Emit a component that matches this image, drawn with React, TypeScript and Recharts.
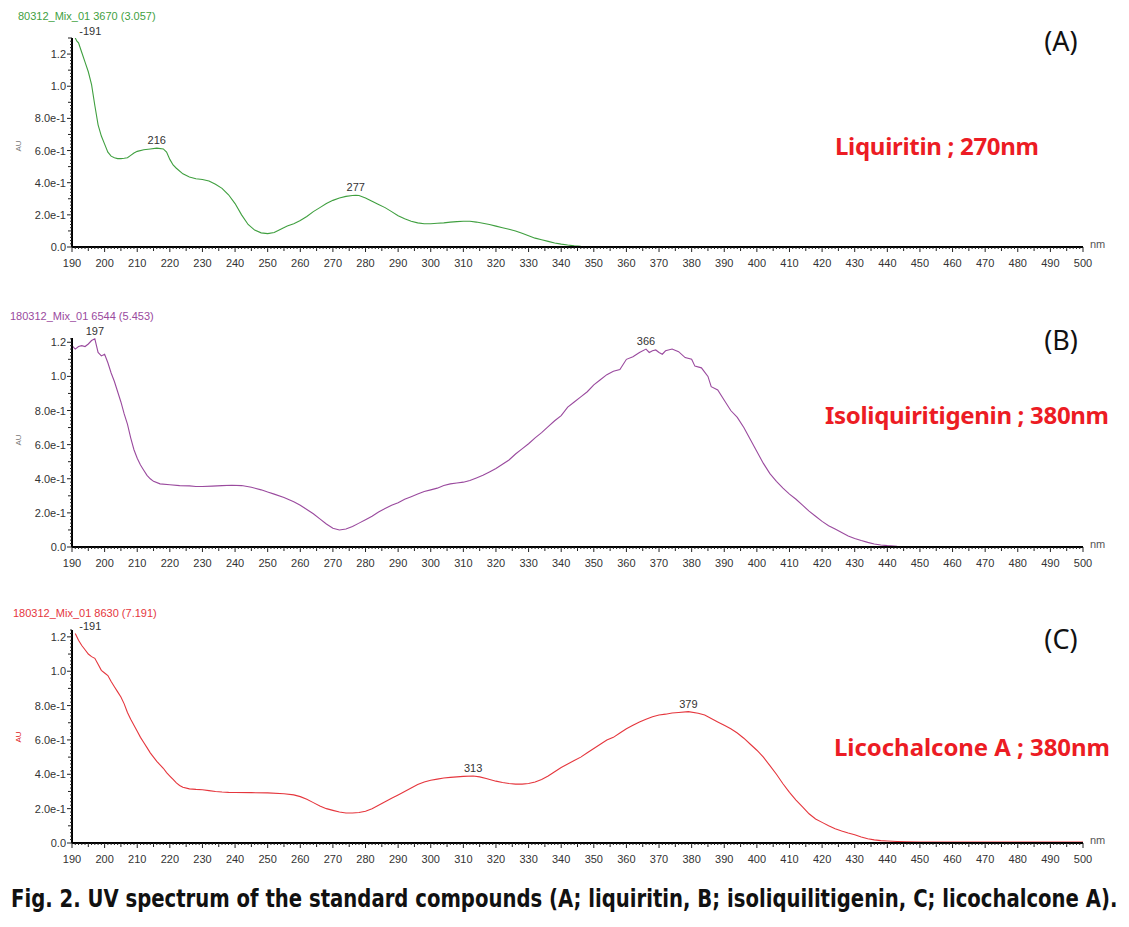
import React, { useLayoutEffect, useRef, useState } from "react";
import { LineChart, Line, XAxis, YAxis, LabelList } from "recharts";

const W = 1129;
const H = 927;

// (A) liquiritin
const nmA = [
  191, 191.5, 192, 193, 194, 195, 196, 197, 198, 199,
  200, 201, 202, 203, 204, 205, 206, 207, 208, 209,
  210, 212, 214, 216, 218, 219, 220, 221, 222, 224,
  226, 228, 230, 232, 234, 236, 238, 240, 242, 244,
  246, 248, 250, 252, 254, 256, 258, 260, 262, 264,
  266, 268, 270, 272, 274, 276, 277, 278, 280, 282, 284,
  286, 288, 290, 292, 294, 296, 298, 300, 302, 304,
  306, 308, 310, 312, 314, 316, 318, 320, 322, 324,
  326, 328, 330, 332, 334, 336, 338, 340, 342, 344,
  346, 350, 360, 400, 450, 500,
];
const absA = [
  1.3, 1.28, 1.27, 1.21, 1.15, 1.09, 1.01, 0.88, 0.76, 0.69,
  0.64, 0.59, 0.565, 0.555, 0.55, 0.55, 0.552, 0.555, 0.57, 0.585,
  0.595, 0.605, 0.61, 0.615, 0.61, 0.59, 0.545, 0.51, 0.49, 0.455,
  0.435, 0.425, 0.42, 0.41, 0.39, 0.365, 0.325, 0.27, 0.2, 0.14,
  0.105, 0.088, 0.083, 0.09, 0.11, 0.13, 0.145, 0.165, 0.19, 0.22,
  0.245, 0.27, 0.29, 0.305, 0.315, 0.32, 0.322, 0.32, 0.305, 0.285, 0.265,
  0.245, 0.22, 0.195, 0.175, 0.16, 0.15, 0.145, 0.145, 0.148, 0.15,
  0.155, 0.158, 0.16, 0.16, 0.155, 0.148, 0.14, 0.13, 0.12, 0.11,
  0.1, 0.085, 0.07, 0.055, 0.045, 0.035, 0.025, 0.018, 0.012, 0.007,
  0.004, 0.001, 0, 0, 0, 0,
];
const peaksA = [191, 216, 277];

// (B) isoliquiritigenin
const nmB = [
  190, 191, 192, 193, 194, 195, 196, 197, 198, 199,
  200, 201, 202, 203, 204, 205, 206, 207, 208, 209,
  210, 211, 212, 213, 214, 215, 217, 220, 223, 226,
  228, 230, 233, 236, 239, 242, 245, 248, 250, 252,
  255, 258, 260, 262, 264, 266, 268, 270, 272, 274,
  276, 278, 280, 282, 284, 286, 288, 290, 292, 294,
  296, 298, 300, 302, 304, 306, 308, 310, 312, 314,
  316, 318, 320, 322, 324, 326, 328, 330, 332, 334,
  336, 338, 340, 342, 344, 346, 348, 350, 352, 354,
  356, 358, 360, 362, 364, 366, 367, 368, 369, 370,
  371, 372, 374, 376, 378, 380, 381, 383, 385, 386,
  388, 390, 392, 394, 396, 398, 400, 402, 404, 406,
  408, 410, 412, 414, 416, 418, 420, 422, 424, 426,
  428, 430, 432, 434, 436, 438, 440, 443, 446, 450,
  500,
];
const absB = [
  1.18, 1.16, 1.175, 1.18, 1.175, 1.19, 1.21, 1.22, 1.14, 1.12,
  1.13, 1.08, 1.02, 0.97, 0.91, 0.85, 0.78, 0.72, 0.64, 0.57,
  0.52, 0.48, 0.45, 0.42, 0.4, 0.385, 0.37, 0.365, 0.36, 0.358,
  0.355, 0.355, 0.357, 0.36, 0.362, 0.36, 0.35, 0.335, 0.322, 0.31,
  0.29, 0.265, 0.245, 0.22, 0.195, 0.165, 0.135, 0.11, 0.1, 0.105,
  0.12, 0.14, 0.16, 0.18, 0.205, 0.225, 0.245, 0.26, 0.28, 0.295,
  0.31, 0.325, 0.335, 0.345, 0.36, 0.37, 0.375, 0.38, 0.39, 0.405,
  0.42, 0.44, 0.46, 0.485, 0.51, 0.545, 0.575, 0.605, 0.64, 0.67,
  0.705, 0.74, 0.77, 0.82, 0.85, 0.88, 0.91, 0.95, 0.98, 1.01,
  1.03, 1.04, 1.1, 1.115, 1.14, 1.16, 1.14, 1.15, 1.155, 1.14,
  1.13, 1.15, 1.16, 1.145, 1.11, 1.1, 1.06, 1.05, 1.0, 0.94,
  0.92, 0.86, 0.8, 0.76, 0.7, 0.63, 0.56, 0.49, 0.43, 0.385,
  0.345, 0.31, 0.28, 0.245, 0.21, 0.18, 0.15, 0.125, 0.105, 0.085,
  0.065, 0.05, 0.038, 0.027, 0.018, 0.012, 0.008, 0.004, 0.002, 0,
  0,
];
const peaksB = [197, 366];

// (C) licochalcone A
const nmC = [
  191, 192, 193, 194, 195, 196, 197, 198, 199, 200,
  201, 202, 203, 204, 205, 206, 207, 208, 209, 210,
  211, 212, 213, 214, 215, 216, 217, 218, 219, 220,
  221, 222, 223, 224, 226, 228, 230, 232, 234, 236,
  238, 240, 245, 250, 255, 258, 260, 262, 264, 266,
  268, 270, 272, 274, 276, 278, 280, 282, 284, 286,
  288, 290, 292, 294, 296, 298, 300, 302, 304, 306,
  308, 310, 313, 315, 317, 320, 322, 324, 326, 328,
  330, 332, 334, 336, 338, 340, 342, 344, 346, 348,
  350, 352, 354, 356, 358, 360, 362, 364, 366, 368,
  370, 372, 374, 376, 379, 382, 384, 386, 388, 390,
  392, 394, 396, 398, 400, 402, 404, 406, 408, 410,
  412, 414, 416, 418, 420, 422, 424, 426, 428, 430,
  432, 434, 436, 438, 440, 443, 446, 450, 460, 500,
];
const absC = [
  1.22, 1.18, 1.15, 1.125, 1.1, 1.085, 1.075, 1.04, 1.005, 0.99,
  0.975, 0.94, 0.91, 0.88, 0.85, 0.81, 0.76, 0.72, 0.685, 0.65,
  0.615, 0.585, 0.555, 0.525, 0.5, 0.475, 0.455, 0.435, 0.41, 0.39,
  0.37, 0.35, 0.335, 0.325, 0.315, 0.312, 0.31, 0.305, 0.3, 0.297,
  0.295, 0.294, 0.293, 0.292, 0.287, 0.28, 0.27, 0.255, 0.235, 0.215,
  0.2, 0.19, 0.18, 0.175, 0.175, 0.178, 0.185, 0.2, 0.22, 0.24,
  0.26, 0.28, 0.3, 0.32, 0.34, 0.355, 0.365, 0.372, 0.378, 0.382,
  0.385, 0.388, 0.39, 0.385, 0.375, 0.36, 0.352, 0.346, 0.343, 0.343,
  0.346, 0.355, 0.37, 0.39, 0.415, 0.44, 0.46, 0.48, 0.5, 0.525,
  0.55, 0.575, 0.6, 0.615, 0.64, 0.665, 0.685, 0.705, 0.72, 0.735,
  0.745, 0.75, 0.757, 0.76, 0.765, 0.755, 0.745, 0.725, 0.705, 0.685,
  0.665, 0.64, 0.61, 0.575, 0.54, 0.5, 0.45, 0.4, 0.345, 0.295,
  0.25, 0.21, 0.17, 0.14, 0.12, 0.1, 0.083, 0.07, 0.058, 0.048,
  0.035, 0.025, 0.018, 0.014, 0.012, 0.009, 0.007, 0.005, 0.006, 0.006,
];
const peaksC = [191, 313, 379];

const caption =
  "Fig. 2. UV spectrum of the standard compounds (A; liquiritin, B; isoliquilitigenin, C; licochalcone A).";

const xTicks: number[] = [];
for (let v = 190; v <= 500; v++) xTicks.push(v);

const fmtY = (v: number) => {
  const k = Math.round(v * 10);
  if (k === 0) return "0.0";
  if (k >= 10) return (k / 10).toFixed(1);
  return `${k}.0e-1`;
};

const tickFont = "'Liberation Sans', Arial, sans-serif";

const XTick = (props: any) => {
  const { x, y, payload } = props;
  const v = Math.round(payload.value);
  const len = v % 10 === 0 ? 5 : v % 5 === 0 ? 4 : 2;
  return (
    <g>
      <line x1={x} x2={x} y1={y} y2={y + len} stroke="#222" strokeWidth={1} />
      {v % 10 === 0 && (
        <text x={x} y={y + 20} textAnchor="middle" fontSize={11} fill="#333" fontFamily={tickFont}>
          {v}
        </text>
      )}
      {v === 500 && (
        <text x={x + 7} y={y + 1} fontSize={11} fill="#555" fontFamily={tickFont}>
          nm
        </text>
      )}
    </g>
  );
};

const YTick = (props: any) => {
  const { x, y, payload } = props;
  const k = Math.round(payload.value * 50);
  const len = k % 10 === 0 ? 5 : k % 5 === 0 ? 4 : 2;
  return (
    <g>
      <line x1={x - len} x2={x} y1={y} y2={y} stroke="#222" strokeWidth={1} />
      {k % 10 === 0 && (
        <text x={x - 6} y={y + 4} textAnchor="end" fontSize={11} fill="#333" fontFamily={tickFont}>
          {fmtY(payload.value)}
        </text>
      )}
    </g>
  );
};

function Panel(props: {
  top: number;
  height: number;
  marginTop: number;
  yMax: number;
  nm: number[];
  abs: number[];
  peaks: number[];
  color: string;
}) {
  const { top, height, marginTop, yMax, nm, abs, peaks, color } = props;
  const data = nm.map((x, i) => ({ nm: x, abs: abs[i] }));
  const yTicks: number[] = [];
  for (let i = 0; i * 0.02 <= yMax + 1e-9; i++) yTicks.push(+(i * 0.02).toFixed(2));

  const peakLabel = (p: any) => {
    const v = p.value;
    if (!peaks.includes(v)) return null;
    const x = p.x ?? p.viewBox?.x;
    const y = p.y ?? p.viewBox?.y;
    const first = v === nm[0];
    return (
      <text
        key={`pk-${v}`}
        x={first ? x + 4 : x}
        y={first ? y - 3 : y - 4}
        textAnchor={first ? "start" : "middle"}
        fontSize={11}
        fill="#333"
        fontFamily={tickFont}
      >
        {first ? `-${v}` : v}
      </text>
    );
  };

  return (
    <div style={{ position: "absolute", left: 0, top, width: W, height }}>
      <LineChart width={W} height={height} data={data} margin={{ top: marginTop, right: 46, bottom: 0, left: 10 }}>
        <XAxis
          dataKey="nm"
          type="number"
          domain={[190, 500]}
          ticks={xTicks}
          interval={0}
          tick={<XTick />}
          tickLine={false}
          tickSize={0}
          tickMargin={0}
          height={28}
          axisLine={{ stroke: "#000", strokeWidth: 2 }}
        />
        <YAxis
          type="number"
          domain={[0, yMax]}
          ticks={yTicks}
          interval={0}
          tick={<YTick />}
          tickLine={false}
          tickSize={0}
          tickMargin={0}
          width={62}
          allowDataOverflow
          axisLine={{ stroke: "#000", strokeWidth: 2 }}
        />
        <Line type="linear" dataKey="abs" stroke={color} strokeWidth={1.1} dot={false} isAnimationActive={false}>
          <LabelList dataKey="nm" content={peakLabel} />
        </Line>
      </LineChart>
    </div>
  );
}

const smallFont = "'Liberation Sans', Arial, sans-serif";
const labelFont = "'Noto Sans', 'Open Sans', sans-serif";

// caption squeezed horizontally to the width of the figure
function Caption() {
  const ref = useRef<SVGTextElement>(null);
  const [sx, setSx] = useState(0.76);
  useLayoutEffect(() => {
    if (ref.current) {
      const w = ref.current.getComputedTextLength();
      if (w > 0) setSx(1106 / w);
    }
  }, []);
  return (
    <text
      ref={ref}
      transform={`translate(11,907) scale(${sx},1)`}
      fontSize={24}
      fontWeight="bold"
      fill="#111"
      fontFamily="'Liberation Sans Narrow', 'DejaVu Sans Condensed', 'Noto Sans', sans-serif"
    >
      {caption}
    </text>
  );
}

export default function App() {
  return (
    <div style={{ position: "absolute", left: 0, top: 0, width: W, height: H, background: "#fff", overflow: "hidden" }}>
      <Panel top={0} height={275} marginTop={38} yMax={1.3} nm={nmA} abs={absA} peaks={peaksA} color="#3f9f3f" />
      <Panel top={290} height={285} marginTop={48} yMax={1.225} nm={nmB} abs={absB} peaks={peaksB} color="#9a4a9e" />
      <Panel top={590} height={281} marginTop={40} yMax={1.24} nm={nmC} abs={absC} peaks={peaksC} color="#e5363d" />
      <svg width={W} height={H} style={{ position: "absolute", left: 0, top: 0, pointerEvents: "none" }}>
        <text x={18} y={20} fontSize={11} fill="#3f9f3f" fontFamily={smallFont}>80312_Mix_01 3670 (3.057)</text>
        <text x={10} y={320} fontSize={11} fill="#9a4a9e" fontFamily={smallFont}>180312_Mix_01 6544 (5.453)</text>
        <text x={13} y={617} fontSize={11} fill="#e5363d" fontFamily={smallFont}>180312_Mix_01 8630 (7.191)</text>

        <text transform="translate(21,146) rotate(-90)" textAnchor="middle" fontSize={8} fill="#777" fontFamily={smallFont}>AU</text>
        <text transform="translate(21,440) rotate(-90)" textAnchor="middle" fontSize={8} fill="#777" fontFamily={smallFont}>AU</text>
        <text transform="translate(21,737) rotate(-90)" textAnchor="middle" fontSize={8} fill="#e02020" fontFamily={smallFont}>AU</text>

        <text x={1061} y={51} textAnchor="middle" fontSize={27} fill="#111" fontFamily={labelFont}>(A)</text>
        <text x={1061} y={350} textAnchor="middle" fontSize={27} fill="#111" fontFamily={labelFont}>(B)</text>
        <text x={1061} y={649} textAnchor="middle" fontSize={27} fill="#111" fontFamily={labelFont}>(C)</text>

        <text x={835} y={155} fontSize={24} fontWeight="bold" fill="#ec1c24" fontFamily={labelFont} textLength={204}>Liquiritin ; 270nm</text>
        <text x={825} y={424} fontSize={24} fontWeight="bold" fill="#ec1c24" fontFamily={labelFont} textLength={284}>Isoliquiritigenin ; 380nm</text>
        <text x={834} y={756} fontSize={24} fontWeight="bold" fill="#ec1c24" fontFamily={labelFont} textLength={276}>Licochalcone A ; 380nm</text>

        <Caption />
      </svg>
    </div>
  );
}
